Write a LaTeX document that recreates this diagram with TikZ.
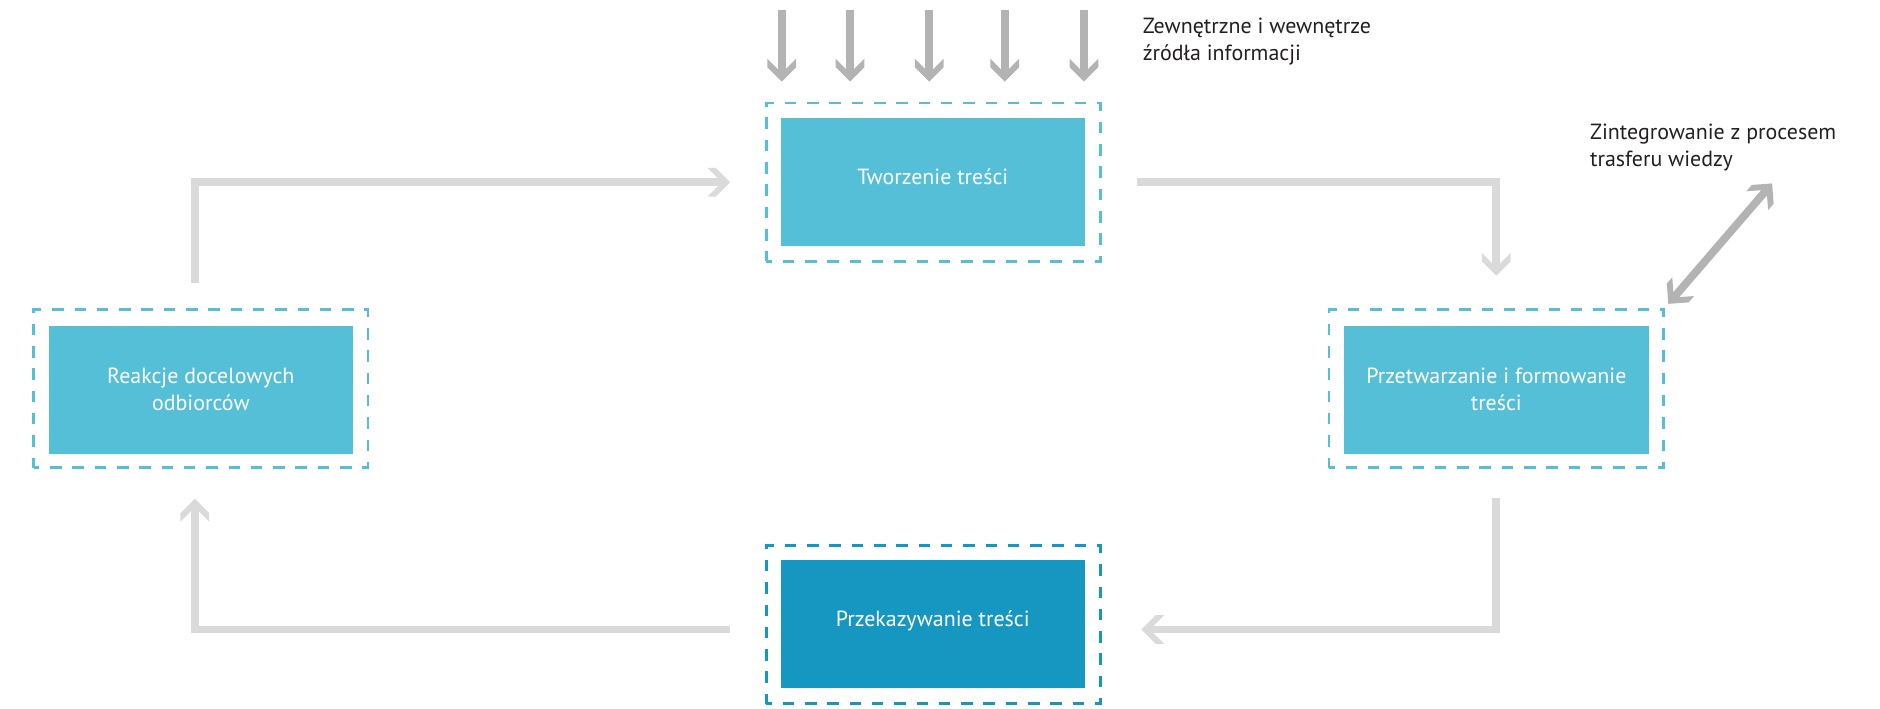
\documentclass[tikz,border=0pt]{standalone}
\usepackage{fontspec}
\setmainfont{PT Sans}
\usetikzlibrary{arrows.meta}

% chevron-shaped arrow tip: a thick open "V" with its wing ends cut parallel to the shaft
\pgfdeclarearrow{
  name = Chev,
  setup code = {
    \pgfarrowssettipend{0pt}
    \pgfarrowssetlineend{-6pt}
    \pgfarrowssetvisualbackend{-19pt}
    \pgfarrowssetbackend{-19pt}
    \pgfarrowshullpoint{0pt}{0pt}
    \pgfarrowsupperhullpoint{-19pt}{12pt}
  },
  drawing code = {
    \pgfpathmoveto{\pgfqpoint{0pt}{0pt}}
    \pgfpathlineto{\pgfqpoint{-12pt}{12pt}}
    \pgfpathlineto{\pgfqpoint{-19pt}{12pt}}
    \pgfpathlineto{\pgfqpoint{-7pt}{0pt}}
    \pgfpathlineto{\pgfqpoint{-19pt}{-12pt}}
    \pgfpathlineto{\pgfqpoint{-12pt}{-12pt}}
    \pgfpathclose
    \pgfusepathqfill
  }
}

\definecolor{boxL}{HTML}{55BFD7}
\definecolor{boxD}{HTML}{1597C2}
\definecolor{lineL}{HTML}{DADADA}
\definecolor{lineD}{HTML}{B3B3B3}
\definecolor{ink}{HTML}{231F20}

\tikzset{
  stage/.style={minimum width=254pt, minimum height=107pt, inner sep=0pt, outer sep=0pt,
    text=white, align=center, font=\fontsize{18.3}{22.5}\selectfont},
  oneline/.style={text height=13pt, text depth=9pt},
  frame/.style={minimum width=279pt, minimum height=132pt, inner sep=0pt, outer sep=0pt,
    line width=2.3pt, dash pattern=on 9.6pt off 9pt, dash phase=4.8pt},
  flow/.style={color=lineL, line width=6.5pt, -Chev},
  feed/.style={color=lineD, line width=6.5pt},
  note/.style={text=ink, align=left, inner sep=0pt, font=\fontsize{18.3}{22.5}\selectfont}
}

\begin{document}
\begin{tikzpicture}[x=1pt, y=-1pt]
\useasboundingbox (0,0) rectangle (1568,591);

% dashed frames
\node[frame, draw=boxL] (twf) at (778.5,152) {};
\node[frame, draw=boxL] (ref) at (167.5,324) {};
\node[frame, draw=boxL] (prf) at (1248,324) {};
\node[frame, draw=boxD] (pkf) at (778.5,521) {};

% stage boxes
\node[stage, oneline, fill=boxL] (tw) at (778,152) {Tworzenie treści};
\node[stage, fill=boxL] (re) at (167.5,325) {Reakcje docelowych\\odbiorców};
\node[stage, fill=boxL] (pr) at (1248,325) {Przetwarzanie i formowanie\\treści};
\node[stage, oneline, fill=boxD] (pk) at (778,520.5) {Przekazywanie treści};

% information sources
\coordinate (s1) at (652,8);
\coordinate (s2) at (709,8);
\coordinate (s3) at (775,8);
\coordinate (s4) at (838,8);
\coordinate (s5) at (904,8);
\foreach \s in {s1,s2,s3,s4,s5}
  \draw[feed, -Chev, shorten >=18pt] (\s) -- (\s |- twf.north);

% main cycle
\draw[flow] ([xshift=30pt]twf.east) -| ([yshift=28pt]prf.north);
\draw[flow] ([yshift=-25pt]prf.south) |- ([xshift=34pt,yshift=-4pt]pkf.east);
\draw[flow] ([xshift=-30pt,yshift=-4pt]pkf.west) -| ([xshift=-5pt,yshift=-26pt]ref.south);
\draw[flow] ([xshift=-5pt,yshift=22pt]ref.north) |- ([xshift=-30pt]twf.west);

% link to knowledge transfer
\coordinate (kt) at (1478,153);
\draw[feed, Chev-Chev, shorten <=6pt] (prf.north east) -- (kt);

% labels
\node[note, anchor=north west] (lsrc) at (953,15) {Zewnętrzne i wewnętrze\\źródła informacji};
\node[note, anchor=north west] (lkt) at (1326,103) {Zintegrowanie z procesem\\trasferu wiedzy};
\end{tikzpicture}
\end{document}
